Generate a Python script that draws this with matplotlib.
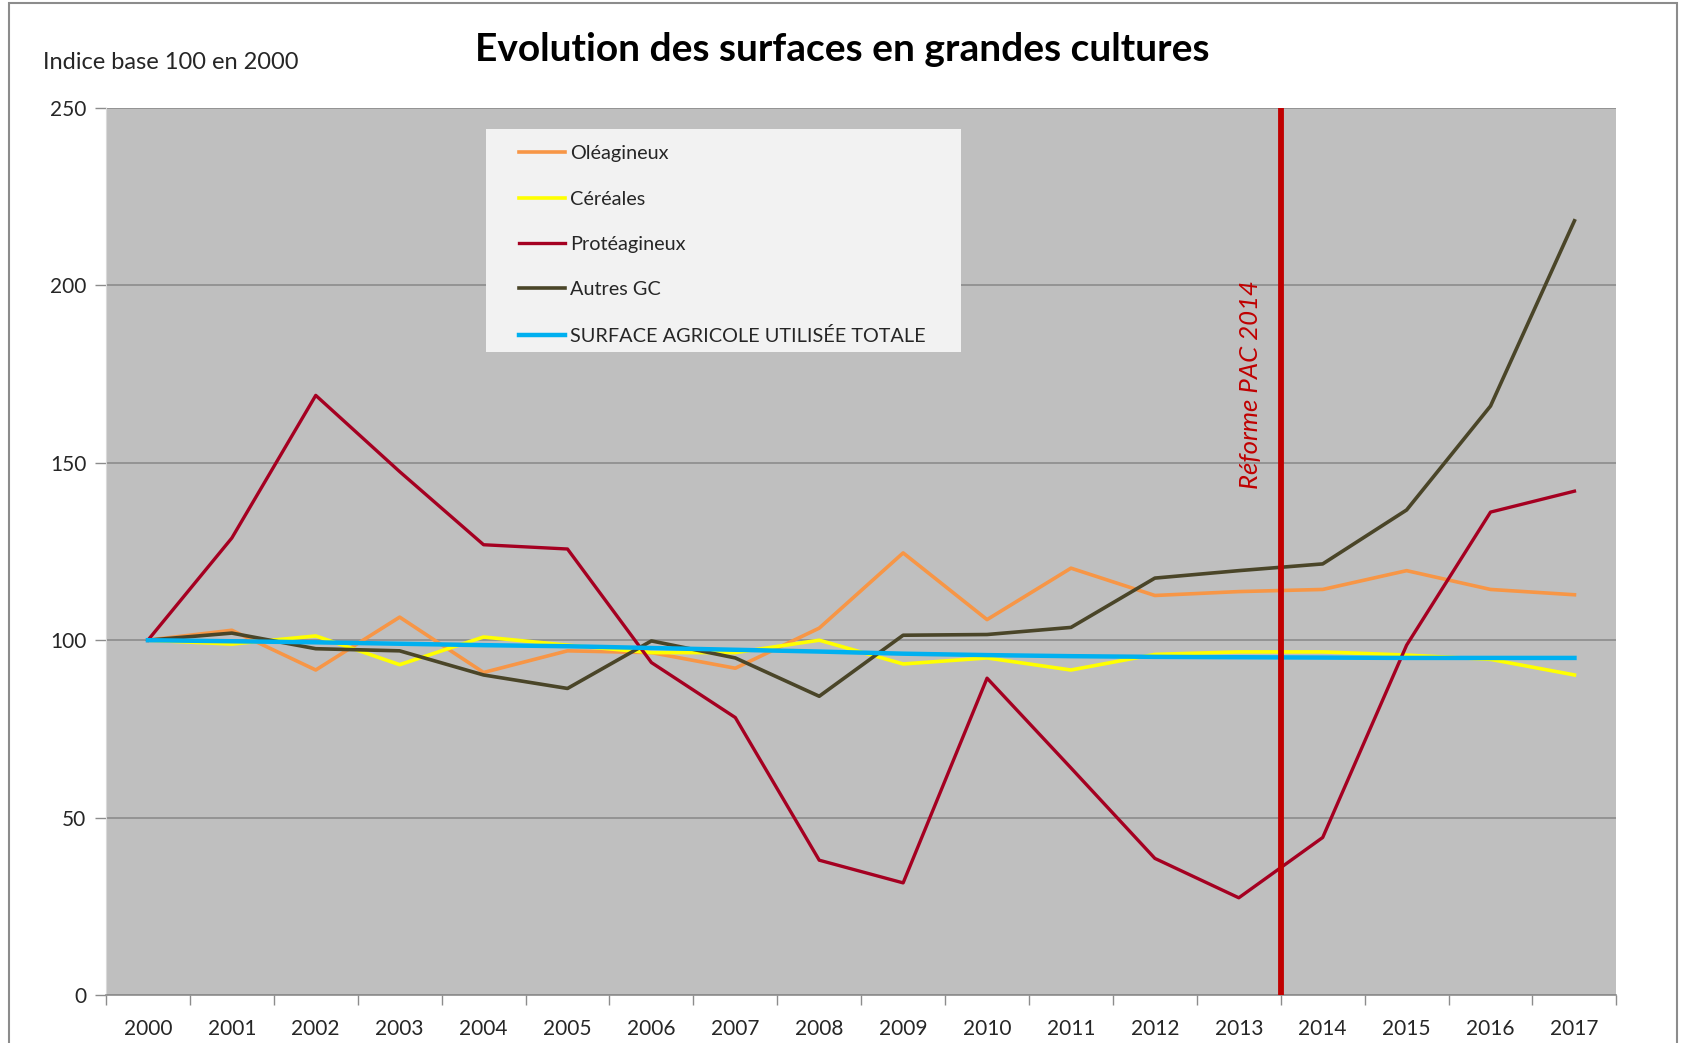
import numpy as np
import matplotlib
matplotlib.use("Agg")
import matplotlib.pyplot as plt
from matplotlib.patches import Rectangle

plt.rcParams['font.family'] = ['Lato', 'DejaVu Sans']

years = [str(y) for y in range(2000, 2018)]

oleagineux = [100, 102.8, 91.6, 106.5, 90.9, 97.0, 96.5, 92.1, 103.4, 124.6,
              105.8, 120.3, 112.6, 113.7, 114.3, 119.6, 114.3, 112.8]
cereales = [100, 98.9, 101.2, 93.1, 100.9, 98.6, 96.5, 96.5, 100.0, 93.3,
            95.0, 91.6, 96.0, 96.7, 96.7, 95.8, 94.6, 90.2]
proteagineux = [100, 128.8, 169.0, 147.5, 126.9, 125.7, 93.7, 78.2, 38.0, 31.6,
                89.3, 64.0, 38.5, 27.4, 44.4, 98.6, 136.1, 142.0]
autres_gc = [100, 102.0, 97.6, 97.0, 90.2, 86.4, 99.8, 95.0, 84.2, 101.4,
             101.6, 103.6, 117.5, 119.6, 121.5, 136.7, 166.0, 218.2]
sau_totale = [100, 99.7, 99.4, 99.0, 98.6, 98.3, 97.8, 97.3, 96.8, 96.2,
              95.8, 95.5, 95.3, 95.2, 95.1, 95.0, 95.0, 95.0]

series = [
    ('Oléagineux', oleagineux, '#F79646', 2.6),
    ('Céréales', cereales, '#FFFF00', 2.6),
    ('Protéagineux', proteagineux, '#A50021', 2.4),
    ('Autres GC', autres_gc, '#4A4528', 2.6),
    ('SURFACE AGRICOLE UTILISÉE TOTALE', sau_totale, '#00B0F0', 3.2),
]

reform_pos = 13.5  # between 2013 and 2014

fig = plt.figure(figsize=(16.82, 10.43), dpi=100)
ax = fig.add_axes([0.063, 0.046, 0.898, 0.8505])
ax.set_facecolor('#BFBFBF')

x = np.arange(len(years))
for label, values, color, lw in series:
    ax.plot(x, values, color=color, lw=lw, label=label, zorder=3)

ax.axvline(reform_pos, color='#C00000', lw=4.2, zorder=4)
ax.text(13.14, 172, 'Réforme PAC 2014', rotation=90, style='italic',
        color='#C00000', fontsize=18.5, ha='center', va='center', zorder=5)

ax.set_xlim(-0.5, len(years) - 0.5)
ax.set_ylim(0, 250)
ax.set_yticks(range(0, 251, 50))
ax.grid(axis='y', color='#8C8C8C', lw=1.2, zorder=1)
ax.set_axisbelow(True)

ax.set_xticks(x)
ax.set_xticklabels(years)
ax.set_xticks(np.arange(-0.5, len(years), 1), minor=True)
ax.tick_params(axis='x', which='major', length=0, pad=17, labelsize=15, colors='#262626')
ax.tick_params(axis='x', which='minor', length=7, color='#8C8C8C', width=1)
ax.tick_params(axis='y', length=8, color='#8C8C8C', width=1, labelsize=15,
               labelcolor='#262626', pad=6)

for side in ['top', 'right']:
    ax.spines[side].set_visible(False)
ax.spines['bottom'].set_color('#8C8C8C')
ax.spines['bottom'].set_linewidth(1.2)
ax.spines['left'].set_color('#D9D9D9')

# legend box
ax.add_patch(Rectangle((0.2515, 0.725), 0.3145, 0.251, transform=ax.transAxes,
                       facecolor='#F2F2F2', edgecolor='none', zorder=6))
leg = ax.legend(loc='upper left', bbox_to_anchor=(0.2735, 0.958), frameon=False,
                fontsize=14.3, handlelength=2.3, handletextpad=0.25,
                labelspacing=1.43, borderpad=0, borderaxespad=0)
leg.set_zorder(7)
for t in leg.get_texts():
    t.set_color('#262626')

fig.text(0.501, 0.953, 'Evolution des surfaces en grandes cultures',
         ha='center', va='center', fontsize=28, fontweight='bold', color='black')
fig.text(0.0256, 0.9405, 'Indice base 100 en 2000', ha='left', va='center',
         fontsize=17, color='#262626')

# outer chart border
fig.patches.append(Rectangle((0.0054, -0.01), 0.9916, 1.007, transform=fig.transFigure,
                             facecolor='none', edgecolor='#8C8C8C', lw=1.5))

fig.savefig('out.png', dpi=100)
